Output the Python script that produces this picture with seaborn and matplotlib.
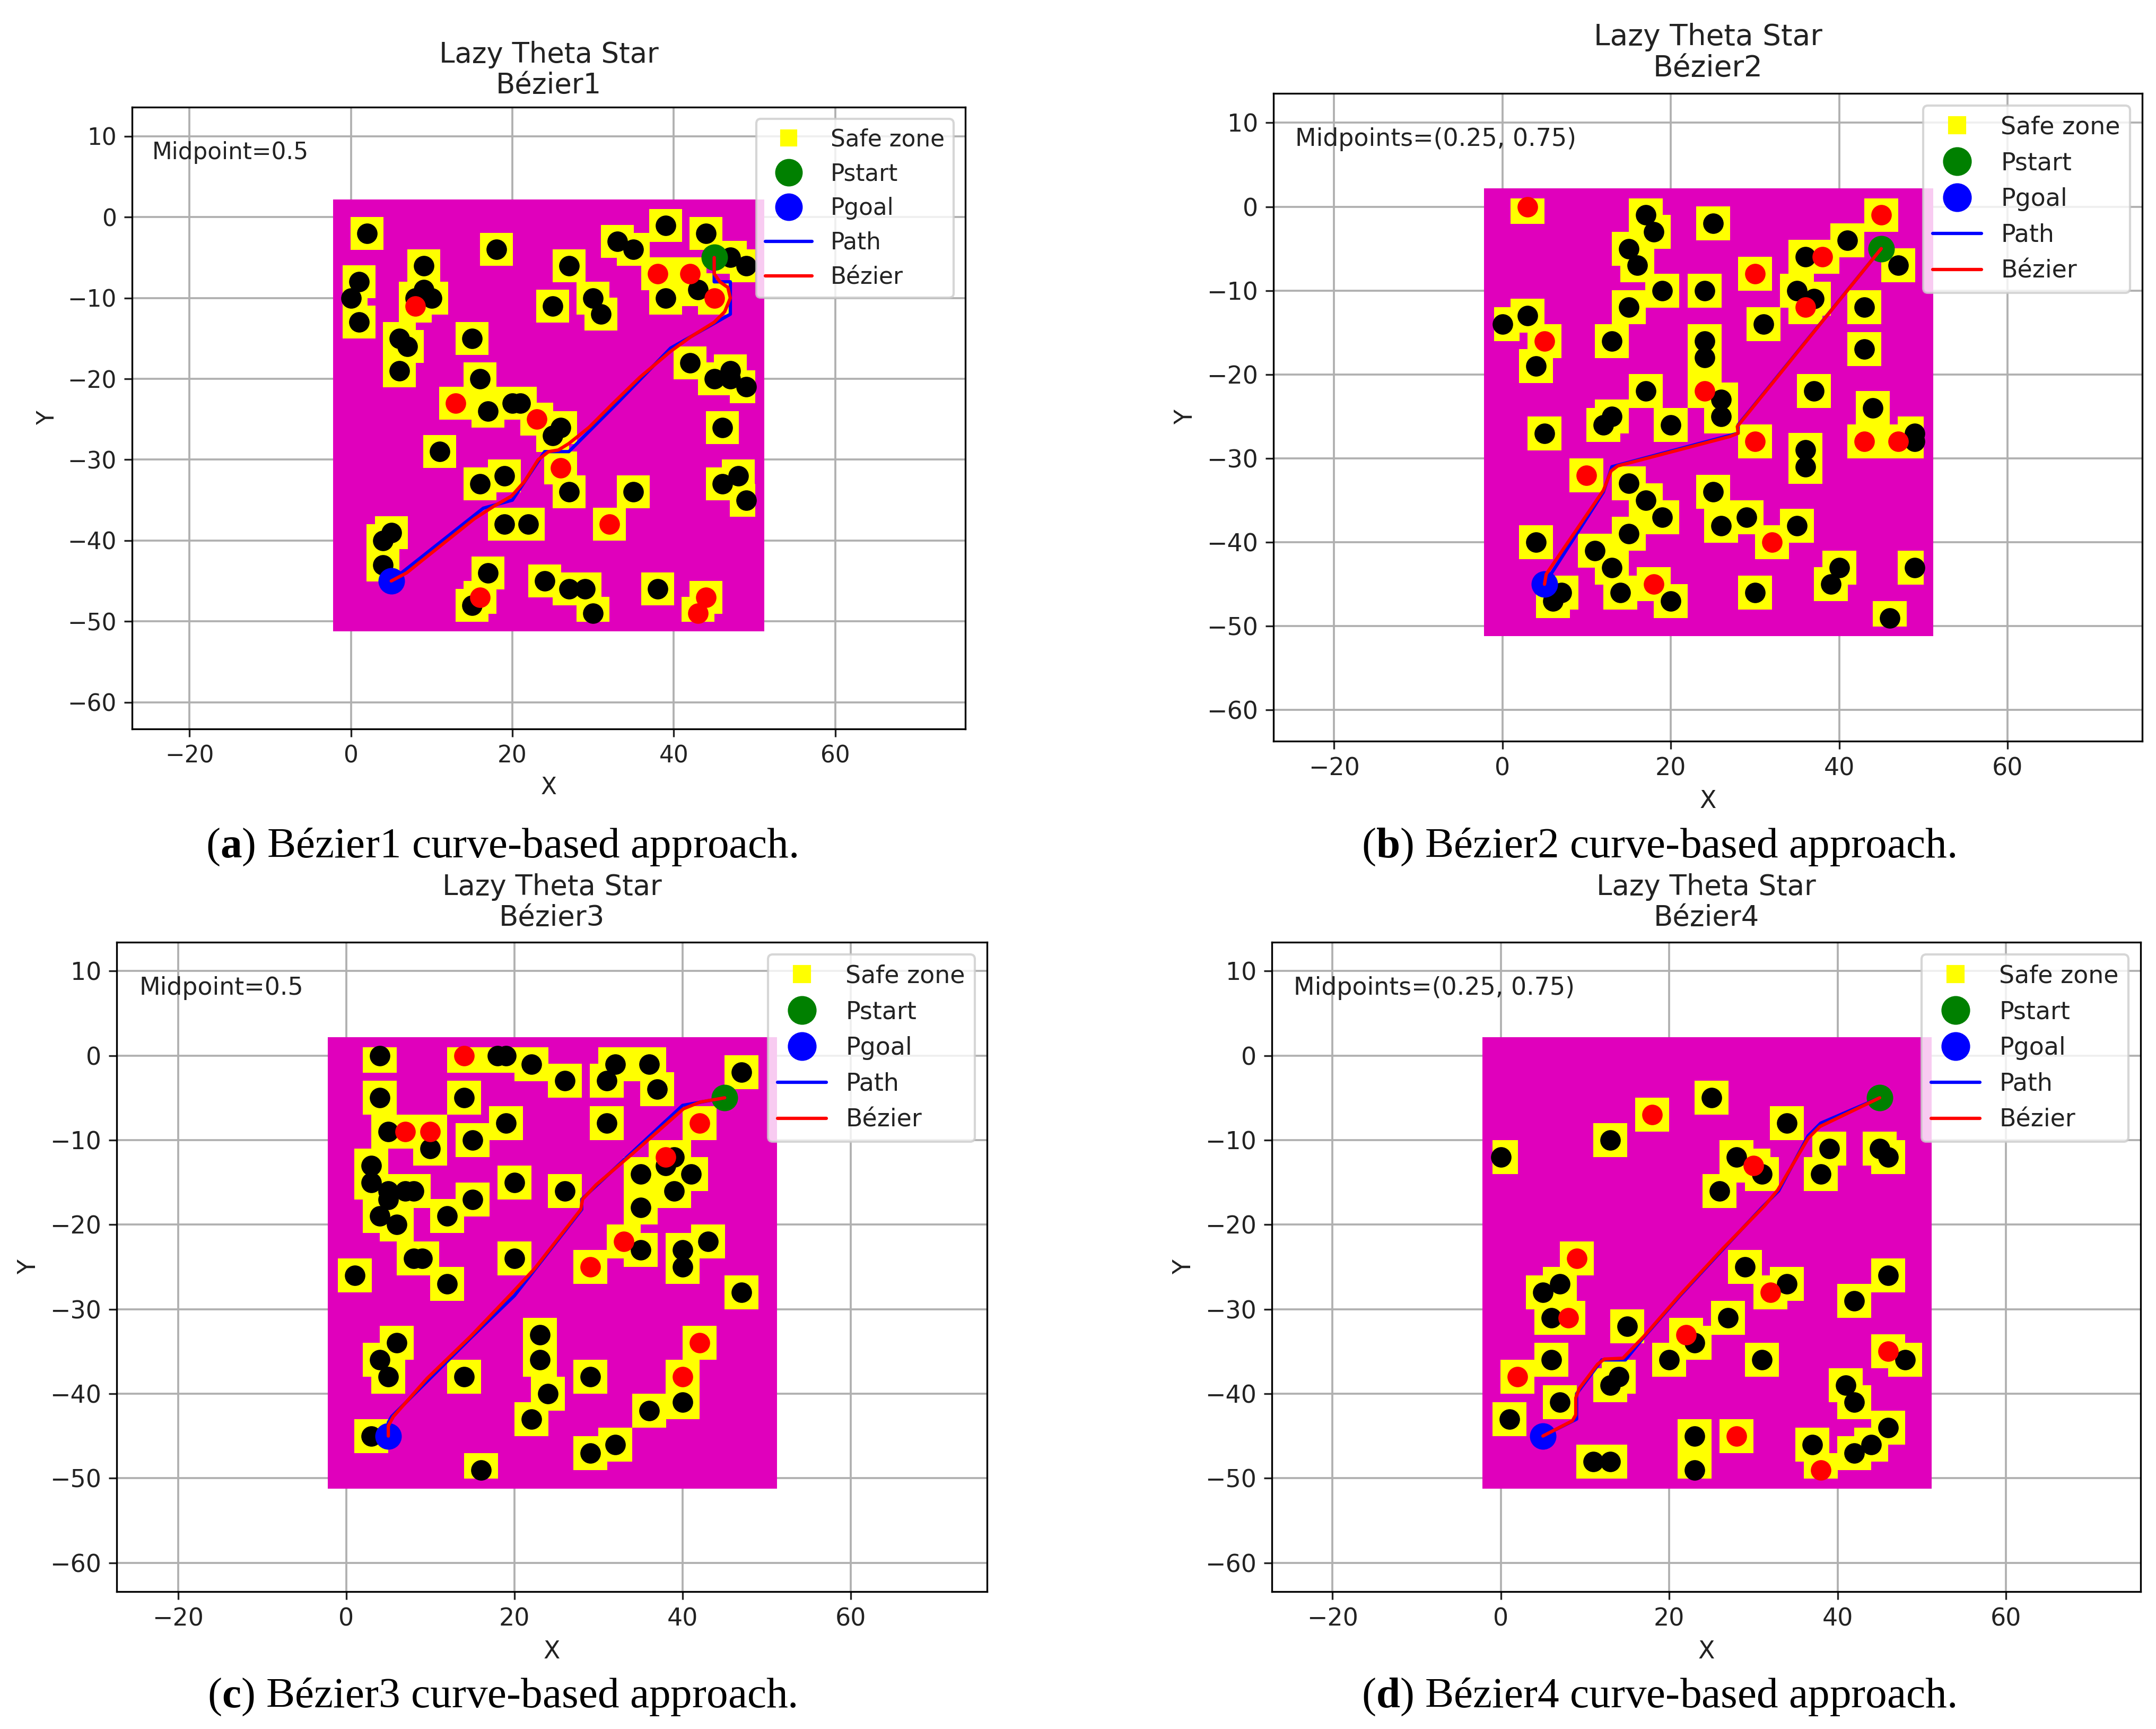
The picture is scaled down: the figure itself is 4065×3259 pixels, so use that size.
import matplotlib

matplotlib.use("Agg")
import matplotlib.pyplot as plt
import pandas as pd
import seaborn as sns
from matplotlib.lines import Line2D
from matplotlib.patches import Rectangle

# Bezier1 obstacles
black_a_x = [2, 18, 9, 1, 0, 1, 9, 8, 10, 6, 7, 6, 15, 16, 17, 20, 21, 26, 25, 11, 16, 19, 27, 35, 19, 22, 5, 4, 4, 17, 15, 24, 27, 29, 30, 38, 27, 25, 30, 31, 33, 35, 39, 44, 47, 49, 39, 43, 42, 45, 47, 47, 49, 46, 46, 48, 49]
black_a_y = [-2, -4, -6, -8, -10, -13, -9, -10, -10, -15, -16, -19, -15, -20, -24, -23, -23, -26, -27, -29, -33, -32, -34, -34, -38, -38, -39, -40, -43, -44, -48, -45, -46, -46, -49, -46, -6, -11, -10, -12, -3, -4, -1, -2, -5, -6, -10, -9, -18, -20, -19, -20, -21, -26, -33, -32, -35]
red_a_x = [8, 13, 23, 26, 32, 16, 44, 43, 38, 42, 45]
red_a_y = [-11, -23, -25, -31, -38, -47, -47, -49, -7, -7, -10]
path_a_x = [45, 45, 47, 47, 39.6, 33, 27, 24, 20, 16.4, 5]
path_a_y = [-5, -8, -8, -12, -16.2, -23, -29, -29, -35, -36, -45]
bezier_a_x = [45, 45, 45.7, 46.7, 47, 46.3, 45, 42.1, 39.6, 35.8, 32.5, 29.5, 27, 25.7, 24.5, 23.2, 21.5, 19.9, 17.8, 15.3, 9.4, 6.9, 5]
bezier_a_y = [-5, -7, -8, -8.7, -10, -11.7, -13, -14.8, -16.6, -19.8, -23, -26, -28, -28.8, -29, -30, -32.7, -34.5, -35.7, -37.3, -42, -44, -45]

# Bezier2 obstacles
black_b_x = [17, 18, 15, 16, 19, 15, 13, 25, 24, 3, 0, 4, 24, 24, 26, 26, 17, 13, 12, 20, 5, 15, 17, 19, 15, 11, 13, 14, 4, 20, 7, 6, 30, 25, 29, 26, 35, 40, 39, 49, 46, 36, 36, 37, 44, 49, 49, 43, 43, 31, 35, 37, 36, 41, 47]
black_b_y = [-1, -3, -5, -7, -10, -12, -16, -2, -10, -13, -14, -19, -16, -18, -23, -25, -22, -25, -26, -26, -27, -33, -35, -37, -39, -41, -43, -46, -40, -47, -46, -47, -46, -34, -37, -38, -38, -43, -45, -43, -49, -29, -31, -22, -24, -27, -28, -17, -12, -14, -10, -11, -6, -4, -7]
red_b_x = [3, 5, 24, 10, 18, 32, 30, 43, 47, 36, 30, 38, 45]
red_b_y = [0, -16, -22, -32, -45, -40, -28, -28, -28, -12, -8, -6, -1]
path_b_x = [45, 28, 28, 13, 12, 5]
path_b_y = [-5, -26, -27, -31, -34, -45]
bezier_b_x = [45, 27.9, 28, 27, 13.7, 12.9, 12, 5.2, 5]
bezier_b_y = [-5, -26.2, -27, -27.4, -30.9, -31.5, -33.8, -43.8, -45]

# Bezier3 obstacles
black_c_x = [4, 4, 5, 10, 14, 15, 19, 18, 19, 22, 26, 32, 31, 36, 37, 47, 31, 39, 38, 35, 41, 39, 35, 35, 40, 40, 43, 47, 20, 26, 15, 12, 3, 3, 5, 7, 8, 5, 4, 6, 8, 9, 12, 1, 20, 6, 4, 5, 14, 23, 23, 24, 22, 29, 40, 36, 32, 29, 16, 3]
black_c_y = [0, -5, -9, -11, -5, -10, -8, 0, 0, -1, -3, -1, -3, -1, -4, -2, -8, -12, -13, -14, -14, -16, -18, -23, -23, -25, -22, -28, -15, -16, -17, -19, -13, -15, -16, -16, -16, -17, -19, -20, -24, -24, -27, -26, -24, -34, -36, -38, -38, -33, -36, -40, -43, -38, -41, -42, -46, -47, -49, -45]
red_c_x = [7, 10, 14, 42, 38, 33, 29, 42, 40]
red_c_y = [-9, -9, 0, -8, -12, -22, -25, -34, -38]
path_c_x = [45, 40, 37.5, 28, 28, 20, 14.8, 5.4, 5, 5]
path_c_y = [-5, -5.9, -8.2, -17, -18.2, -28.4, -33.4, -42.7, -43.4, -45]
bezier_c_x = [45, 42.1, 40.1, 37.7, 33.7, 29.7, 28.1, 27.9, 22.4, 19.6, 14.8, 9.6, 5.6, 5, 5]
bezier_c_y = [-5, -5.5, -6.3, -8.4, -11.9, -15.3, -17, -18.2, -25.2, -28.2, -33.2, -38.2, -42.7, -43.8, -45]

# Bezier4 obstacles
black_d_x = [25, 13, 0, 34, 28, 31, 26, 39, 38, 45, 46, 29, 34, 46, 42, 7, 5, 6, 15, 27, 23, 20, 31, 6, 14, 13, 7, 1, 48, 41, 42, 46, 44, 42, 37, 23, 23, 11, 13]
black_d_y = [-5, -10, -12, -8, -12, -14, -16, -11, -14, -11, -12, -25, -27, -26, -29, -27, -28, -31, -32, -31, -34, -36, -36, -36, -38, -39, -41, -43, -36, -39, -41, -44, -46, -47, -46, -45, -49, -48, -48]
red_d_x = [18, 30, 32, 9, 8, 22, 2, 46, 38, 28]
red_d_y = [-7, -13, -28, -24, -31, -33, -38, -35, -49, -45]
path_d_x = [45, 38, 36.5, 33, 31, 26.4, 21.2, 17, 14.8, 12, 9, 9, 5]
path_d_y = [-5, -8, -9.5, -16, -18, -22.9, -28.5, -33.3, -36, -36, -40, -43, -45]
bezier_d_x = [45, 37.9, 36.5, 32.9, 31.3, 26.4, 21.2, 17, 14.5, 12.3, 11.5, 9.3, 8.9, 8.9, 8.5, 5]
bezier_d_y = [-5, -8.4, -9.8, -15.9, -17.8, -22.8, -28.4, -33.2, -35.8, -35.9, -36.5, -39.4, -40.5, -42.5, -43.2, -45]

pstart = (45, -5)
pgoal = (5, -45)

W, H = 4065, 3259

sns.set_theme(
    style="whitegrid",
    rc={
        "axes.edgecolor": "black",
        "axes.linewidth": 0.8,
        "grid.color": "#b0b0b0",
        "grid.linewidth": 0.9,
        "xtick.bottom": True,
        "ytick.left": True,
        "xtick.color": "#222222",
        "ytick.color": "#222222",
        "text.color": "#222222",
        "axes.labelcolor": "#222222",
        "xtick.major.size": 3.5,
        "ytick.major.size": 3.5,
        "xtick.major.width": 0.8,
        "ytick.major.width": 0.8,
        "font.size": 11,
        "mathtext.fontset": "custom",
        "mathtext.bf": "Liberation Serif:bold",
        "mathtext.rm": "Liberation Serif",
    },
)
plt.rcParams["font.family"] = ["DejaVu Sans"]


def draw_panel(fig, box, xlim, ylim, name, note, black, red, path, bezier, side, fsize, title_size, title_pad):
    left, top, right, bottom = box
    ax = fig.add_axes([left / W, 1 - bottom / H, (right - left) / W, (bottom - top) / H])
    ax.set_xlim(xlim)
    ax.set_ylim(ylim)
    ax.set_axisbelow(True)

    # planning area
    ax.add_patch(Rectangle((-2.2, -51.2), 53.4, 53.4, facecolor="#E000BC", edgecolor="none", zorder=1))

    obstacles = pd.DataFrame({"x": black[0] + red[0], "y": black[1] + red[1]})
    sns.scatterplot(data=obstacles, x="x", y="y", marker="s", s=side**2, color="yellow", linewidth=0, ax=ax, zorder=2, legend=False)
    zone = ax.collections[-1]
    zone.set_clip_path(Rectangle((-1, -50), 51, 51, transform=ax.transData))

    sns.scatterplot(x=black[0], y=black[1], s=86, color="black", linewidth=0, ax=ax, zorder=3, legend=False)
    sns.scatterplot(x=red[0], y=red[1], s=86, color="red", linewidth=0, ax=ax, zorder=4, legend=False)
    sns.scatterplot(x=[pstart[0]], y=[pstart[1]], s=144, color="green", linewidth=0, ax=ax, zorder=5, legend=False)
    sns.scatterplot(x=[pgoal[0]], y=[pgoal[1]], s=144, color="blue", linewidth=0, ax=ax, zorder=5, legend=False)

    sns.lineplot(x=path[0], y=path[1], sort=False, estimator=None, color="blue", linewidth=1.5, ax=ax, zorder=6, legend=False)
    sns.lineplot(x=bezier[0], y=bezier[1], sort=False, estimator=None, color="red", linewidth=1.5, ax=ax, zorder=7, legend=False)

    ax.set_xticks([-20, 0, 20, 40, 60])
    ax.set_yticks([-60, -50, -40, -30, -20, -10, 0, 10])
    ax.tick_params(labelsize=fsize, pad=3.5)
    ax.set_xlabel("X", fontsize=fsize, labelpad=4)
    ax.set_ylabel("Y", fontsize=fsize, labelpad=4)
    ax.set_title("Lazy Theta Star\n" + name, fontsize=title_size, pad=title_pad, linespacing=1.15)
    ax.text(-24.6, 8, note, fontsize=fsize, va="center", ha="left")

    k = fsize / 11
    handles = [
        Line2D([], [], linestyle="none", marker="s", markersize=7 * k, color="yellow", label="Safe zone"),
        Line2D([], [], linestyle="none", marker="o", markersize=12 * k, color="green", label="Pstart"),
        Line2D([], [], linestyle="none", marker="o", markersize=12 * k, color="blue", label="Pgoal"),
        Line2D([], [], color="blue", linewidth=1.5, label="Path"),
        Line2D([], [], color="red", linewidth=1.5, label="Bézier"),
    ]
    leg = ax.legend(handles=handles, loc="upper right", fontsize=fsize, framealpha=0.8, edgecolor="0.8", fancybox=True)
    leg.set_zorder(10)
    for spine in ax.spines.values():
        spine.set_zorder(11)
    return ax


fig = plt.figure(figsize=(W / 300, H / 300), dpi=300, facecolor="white")

draw_panel(fig, (249, 202, 1820, 1374), (-27.1, 76.1), (-63.3, 13.6), "Bézier1", "Midpoint=0.5",
           (black_a_x, black_a_y), (red_a_x, red_a_y), (path_a_x, path_a_y), (bezier_a_x, bezier_a_y), 14.9, 10.5, 12.7, 6.2)
draw_panel(fig, (2401, 176, 4039, 1397), (-27.2, 76.0), (-63.7, 13.5), "Bézier2", "Midpoints=(0.25, 0.75)",
           (black_b_x, black_b_y), (red_b_x, red_b_y), (path_b_x, path_b_y), (bezier_b_x, bezier_b_y), 15.4, 11, 13.2, 7.4)
draw_panel(fig, (220, 1776, 1861, 3000), (-27.3, 76.2), (-63.4, 13.4), "Bézier3", "Midpoint=0.5",
           (black_c_x, black_c_y), (red_c_x, red_c_y), (path_c_x, path_c_y), (bezier_c_x, bezier_c_y), 15.4, 11, 12.7, 7.4)
draw_panel(fig, (2398, 1776, 4036, 3000), (-27.2, 76.0), (-63.4, 13.4), "Bézier4", "Midpoints=(0.25, 0.75)",
           (black_d_x, black_d_y), (red_d_x, red_d_y), (path_d_x, path_d_y), (bezier_d_x, bezier_d_y), 15.4, 11, 12.7, 7.4)

captions = [
    (946, 1597, "a", "Bézier1"),
    (3127, 1597, "b", "Bézier2"),
    (946, 3199, "c", "Bézier3"),
    (3127, 3199, "d", "Bézier4"),
]
for cx, cy, letter, name in captions:
    fig.text(cx / W, 1 - cy / H, "($\\mathbf{%s}$) %s curve-based approach." % (letter, name),
             ha="center", va="center", fontsize=19.5, color="black", family="Liberation Serif")

fig.savefig("out.png", dpi=300)
